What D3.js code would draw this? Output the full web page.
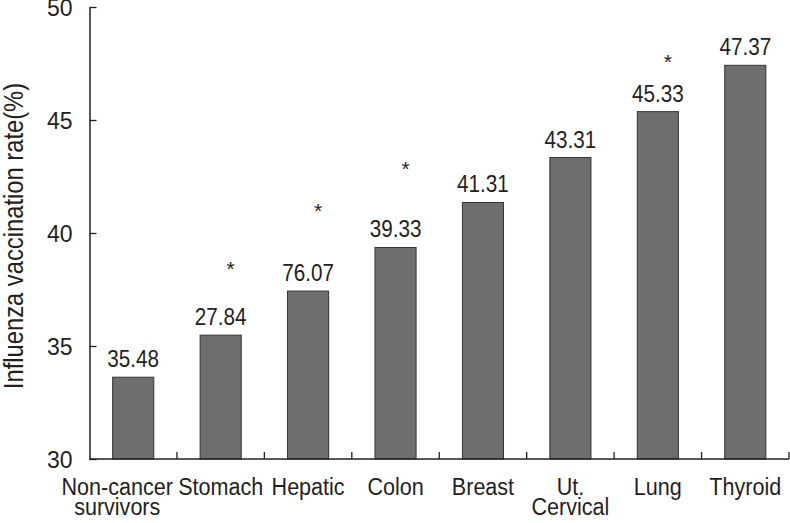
<!DOCTYPE html>
<html>
<head>
<meta charset="utf-8">
<script src="https://cdn.jsdelivr.net/npm/d3@7"></script>
<style>
  html, body { margin: 0; padding: 0; background: #fff; }
  svg { display: block; }
  text { font-family: "Liberation Sans", Arial, sans-serif; fill: #231f20; }
</style>
</head>
<body>
<svg id="chart" width="790" height="523"></svg>
<script>
// ---- data ----
const categories = [["Non-cancer", "survivors"], ["Stomach"], ["Hepatic"], ["Colon"], ["Breast"], ["Ut.", "Cervical"], ["Lung"], ["Thyroid"]];
const values = [33.62, 35.48, 37.43, 39.36, 41.35, 43.34, 45.37, 47.42];
const valueLabels = ["35.48", "27.84", "76.07", "39.33", "41.31", "43.31", "45.33", "47.37"];
const starLevels = [null, 38.5, 41.05, 42.92, null, null, 47.65, null];
const yTicks = [30, 35, 40, 45, 50];
const yTitle = "Influenza vaccination rate(%)";

// ---- layout ----
const svg = d3.select("#chart");
const W = 790, H = 523;
const x0 = 89.5, x1 = 789;
const yTop = 7, yBot = 459;
const SX = 0.88; // condensed look

const idx = categories.map((d, i) => i);
const x = d3.scaleBand().domain(idx).range([x0, x1]).paddingInner(0.53).paddingOuter(0.265);
const xb = d3.scaleBand().domain(idx).range([x0, x1]).padding(0);
const y = d3.scaleLinear().domain([30, 50]).range([yBot, yTop]);

// condensed text helper
function addText(parent, px, py, lines, size, sx, anchor, lineGap) {
  const g = parent.append("g").attr("transform", `translate(${px},${py}) scale(${sx},1)`);
  const t = g.append("text").attr("text-anchor", anchor || "middle").attr("font-size", size);
  [].concat(lines).forEach((s, j) => {
    t.append("tspan").attr("x", 0).attr("y", j * (lineGap || 0)).text(s);
  });
  return g;
}

// bars
svg.append("g").selectAll("rect").data(values).join("rect")
  .attr("x", (d, i) => x(i))
  .attr("y", d => y(d))
  .attr("width", x.bandwidth())
  .attr("height", d => yBot - y(d))
  .attr("fill", "#6e6e6e")
  .attr("stroke", "#333")
  .attr("stroke-width", 1);

// value labels
const gl = svg.append("g");
values.forEach((v, i) => addText(gl, x(i) + x.bandwidth() / 2, y(v) - 10, valueLabels[i], 23.5, SX, "middle"));

// asterisks
const gs = svg.append("g");
starLevels.forEach((s, i) => {
  if (s === null) return;
  addText(gs, x(i) + x.bandwidth() / 2 + 10, y(s) + 9, "*", 21, 1, "middle");
});

// y axis
const yAxis = d3.axisLeft(y).tickValues(yTicks).tickSize(-7).tickPadding(17).tickSizeOuter(0);
const gy = svg.append("g").attr("transform", `translate(${x0},0)`).call(yAxis);
gy.select(".domain").attr("stroke", "#231f20").attr("stroke-width", 1.5);
gy.selectAll(".tick line").attr("stroke", "#231f20").attr("stroke-width", 1.3);
gy.selectAll(".tick text").attr("font-size", 23).attr("font-family", null).attr("fill", "#231f20").attr("dy", "0.36em");

// x axis line + ticks at band boundaries
const gx = svg.append("g");
gx.append("line").attr("x1", x0).attr("x2", x1).attr("y1", yBot).attr("y2", yBot)
  .attr("stroke", "#231f20").attr("stroke-width", 1.5);
gx.selectAll("line.bt").data(idx).join("line").attr("class", "bt")
  .attr("x1", i => xb(i) + xb.bandwidth()).attr("x2", i => xb(i) + xb.bandwidth())
  .attr("y1", yBot).attr("y2", yBot - 7)
  .attr("stroke", "#231f20").attr("stroke-width", 1.3);

// category labels
const gc = svg.append("g");
categories.forEach((c, i) => {
  addText(gc, xb(i) + xb.bandwidth() / 2 - (i === 0 ? 16 : 0), yBot + 36, c, 24.5, SX, "middle", 20);
});

// y title
svg.append("g").attr("transform", `translate(23,${(yTop + yBot) / 2 + 3}) rotate(-90) scale(${SX},1)`)
  .append("text").attr("text-anchor", "middle").attr("font-size", 27).text(yTitle);
</script>
</body>
</html>
